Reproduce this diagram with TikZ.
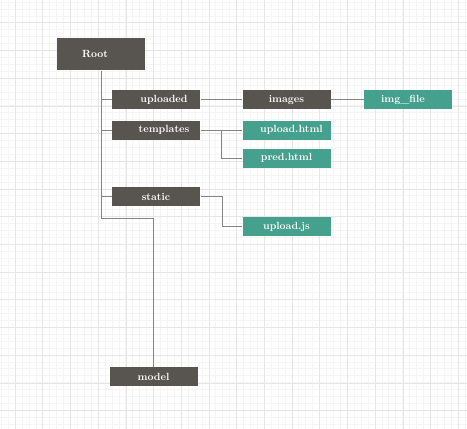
\documentclass[tikz,border=0pt]{standalone}
\usetikzlibrary{positioning, calc}
\definecolor{cdark}{HTML}{58544F}
\definecolor{cteal}{HTML}{45A08E}
\definecolor{cline}{HTML}{858585}
\definecolor{cgridmin}{HTML}{F5F5F5}
\definecolor{cgridmaj}{HTML}{E6E6E6}
\tikzset{
  every picture/.style={line width=1pt},
  folder/.style={fill=#1, text=white, font=\fontsize{10.4}{12}\selectfont\bfseries, minimum width=88pt, minimum height=19pt, inner sep=0pt},
  folder/.default=cdark,
  link/.style={draw=cline, line width=1pt},
}
\begin{document}
\begin{tikzpicture}[x=1pt, y=-1pt,
  rootbox/.style={folder, minimum height=32pt},
  gridline/.style={draw=#1, line width=0.5pt}]
  \useasboundingbox (0,0) rectangle (467,429);
  \fill[white] (0,0) rectangle (467,429);
  % background grid
  \begin{scope}[shift={(15,22.7)}]
    \draw[gridline=cgridmin, step=6.92pt] (-15,-22.7) grid (452,406.3);
    \draw[gridline=cgridmaj, step=27.7pt] (-15,-22.7) grid (452,406.3);
  \end{scope}
  % folders
  \node[rootbox] (root) at (101,54) {Root\hspace*{12pt}};
  \node[folder] (uploaded) at (156,99.5) {\hspace*{16pt}uploaded};
  \node[folder] (templates) at (156,130) {\hspace*{16pt}templates};
  \node[folder] (static) at (156,196.5) {static};
  \node[folder] (images) at (286.5,99.5) {images};
  \node[folder] (model) at (153.5,376.5) {model};
  % files
  \node[folder=cteal] (imgfile) at (408,99.5) {img\_file\hspace*{10pt}};
  \node[folder=cteal] (uploadhtml) at (286.5,130) {\hspace*{10pt}upload.html};
  \node[folder=cteal] (predhtml) at (286.5,158) {pred.html};
  \node[folder=cteal] (uploadjs) at (286.5,226.5) {upload.js};
  % tree links
  \coordinate (bend) at (101,218);
  \draw[link] (root.south) -- (bend) -| (model.north);
  \foreach \n in {uploaded, templates, static}
    \draw[link] (root.south |- \n.west) -- (\n.west);
  \draw[link] (uploaded.east) -- (images.west);
  \draw[link] (images.east) -- (imgfile.west);
  \draw[link] (templates.east) -- (uploadhtml.west);
  \draw[link] (templates.east) -- ++(21,0) |- (predhtml.west);
  \draw[link] (static.east) -- ++(22,0) |- (uploadjs.west);
\end{tikzpicture}
\end{document}
